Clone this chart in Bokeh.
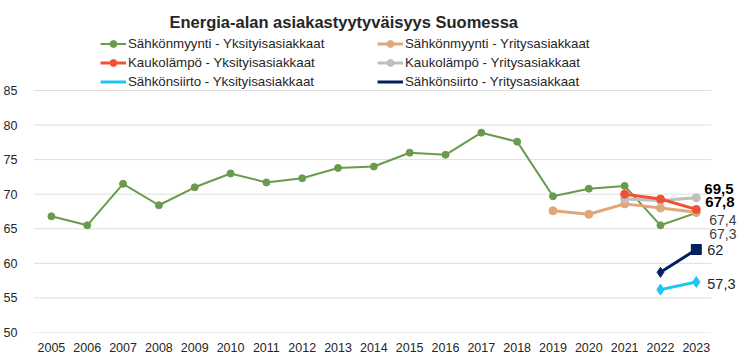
from bokeh.plotting import figure
from bokeh.models import Range1d, Legend, LegendItem, Label, FixedTicker, ColumnDataSource
from bokeh.embed import file_html
from bokeh.resources import INLINE

years = list(range(2005, 2024))
myynti_yks = [66.8, 65.5, 71.5, 68.4, 71.0, 73.0, 71.7, 72.3, 73.8, 74.0,
              76.0, 75.7, 78.9, 77.6, 69.7, 70.8, 71.2, 65.5, 67.3]
years_myynti_yri = [2019, 2020, 2021, 2022, 2023]
myynti_yri = [67.6, 67.1, 68.6, 68.0, 67.4]
years_kauko = [2021, 2022, 2023]
kauko_yks = [70.0, 69.3, 67.8]
kauko_yri = [69.3, 69.1, 69.5]
years_siirto = [2022, 2023]
siirto_yks = [56.2, 57.3]
siirto_yri = [58.7, 62.0]
siirto_yri_markers = ["diamond", "square"]
siirto_yks_markers = ["diamond", "diamond"]
y_ticks = [50, 55, 60, 65, 70, 75, 80, 85]

FONT = "Liberation Sans"
X_START, X_END, GRID_END = 2004.5, 2024.15, 2023.42
Y_START, Y_END = 50, 92.95

p = figure(frame_width=704, frame_height=297, output_backend="svg", toolbar_location=None,
           x_range=Range1d(X_START, X_END), y_range=Range1d(Y_START, Y_END),
           min_border_left=26, min_border_right=0, min_border_top=35, min_border_bottom=15)
p.outline_line_color = None
p.background_fill_color = "white"
p.border_fill_color = "white"

p.title.text = "Energia-alan asiakastyytyväisyys Suomessa"
p.title.text_font = FONT
p.title.text_font_size = "16.5px"
p.title.text_font_style = "bold"
p.title.text_color = "#262626"
p.title.align = "left"
p.title.offset = 136

p.xgrid.grid_line_color = None
p.ygrid.grid_line_color = None
p.yaxis.ticker = FixedTicker(ticks=y_ticks)
p.xaxis.ticker = FixedTicker(ticks=years)
for ax in (p.xaxis, p.yaxis):
    ax.major_tick_line_color = None
    ax.minor_tick_line_color = None
    ax.major_label_text_font = FONT
    ax.major_label_text_font_size = "12.5px"
    ax.major_label_text_color = "#262626"
    ax.axis_line_color = None
p.yaxis.major_label_standoff = 10
p.xaxis.major_label_standoff = 4

# horizontal gridlines, ending at the plot-area edge
p.segment(x0=[X_START] * len(y_ticks), y0=y_ticks, x1=[GRID_END] * len(y_ticks), y1=y_ticks,
          line_color="#dedede", line_width=1)

GREEN = "#6a9a4c"
ORANGE = "#e2a678"
RED = "#f25035"
GRAY = "#bfbfbf"
CYAN = "#1ec6f2"
NAVY = "#002060"

l1 = p.line(years, myynti_yks, color=GREEN, line_width=2)
s1 = p.scatter(years, myynti_yks, marker="circle", size=7, color=GREEN)
l2 = p.line(years_myynti_yri, myynti_yri, color=ORANGE, line_width=3)
s2 = p.scatter(years_myynti_yri, myynti_yri, marker="circle", size=8, color=ORANGE)
l4 = p.line(years_kauko, kauko_yri, color=GRAY, line_width=3)
s4 = p.scatter(years_kauko, kauko_yri, marker="circle", size=8, color=GRAY)
l3 = p.line(years_kauko, kauko_yks, color=RED, line_width=3)
s3 = p.scatter(years_kauko, kauko_yks, marker="circle", size=8, color=RED)
l5 = p.line(years_siirto, siirto_yks, color=CYAN, line_width=3)
src5 = ColumnDataSource(dict(x=years_siirto, y=siirto_yks, m=siirto_yks_markers))
s5 = p.scatter("x", "y", marker="m", size=11, color=CYAN, source=src5)
l6 = p.line(years_siirto, siirto_yri, color=NAVY, line_width=3)
src6 = ColumnDataSource(dict(x=years_siirto, y=siirto_yri, m=siirto_yri_markers))
s6 = p.scatter("x", "y", marker="m", size=10, color=NAVY, source=src6)

# legend-only markers
e5 = p.scatter([], [], marker="circle", size=8, color=GRAY)
e6 = p.scatter([], [], marker="circle", size=8, color=NAVY)

def mk_legend(items, x):
    lg = Legend(items=items, location=(x, 242), orientation="vertical")
    lg.label_text_font = FONT
    lg.label_text_font_size = "13.3px"
    lg.label_text_color = "#262626"
    lg.glyph_width = 26
    lg.glyph_height = 17
    lg.label_height = 17
    lg.label_standoff = 2
    lg.spacing = 2
    lg.padding = 0
    lg.margin = 0
    lg.border_line_color = None
    lg.background_fill_alpha = 0
    return lg

leg1 = mk_legend([
    LegendItem(label="Sähkönmyynti - Yksityisasiakkaat", renderers=[l1, s1]),
    LegendItem(label="Kaukolämpö - Yksityisasiakkaat", renderers=[l3, s3]),
    LegendItem(label="Sähkönsiirto - Yksityisasiakkaat", renderers=[l5, e5]),
], 67)
leg2 = mk_legend([
    LegendItem(label="Sähkönmyynti - Yritysasiakkaat", renderers=[l2, s2]),
    LegendItem(label="Kaukolämpö - Yritysasiakkaat", renderers=[l4, s4]),
    LegendItem(label="Sähkönsiirto - Yritysasiakkaat", renderers=[l6, e6]),
], 344)
p.add_layout(leg1)
p.add_layout(leg2)

def fmt(v):
    return ("%g" % v).replace(".", ",")

last = years[-1]
label_specs = [
    (kauko_yri[-1], 8, 9, "bold", "#000000", "15px"),
    (kauko_yks[-1], 9, 7, "bold", "#000000", "15px"),
    (myynti_yri[-1], 13, -7.5, "normal", "#404040", "14px"),
    (myynti_yks[-1], 13, -21, "normal", "#404040", "14px"),
    (siirto_yri[-1], 11, 0, "normal", "#262626", "14.5px"),
    (siirto_yks[-1], 11, -2, "normal", "#262626", "14.5px"),
]
for v, xo, yo, style, col, fs in label_specs:
    p.add_layout(Label(x=last, y=v, text=fmt(v), x_offset=xo, y_offset=yo,
                       text_font=FONT, text_font_size=fs,
                       text_font_style=style, text_color=col, text_baseline="middle"))

open("out.html", "w").write(file_html(p, INLINE))
